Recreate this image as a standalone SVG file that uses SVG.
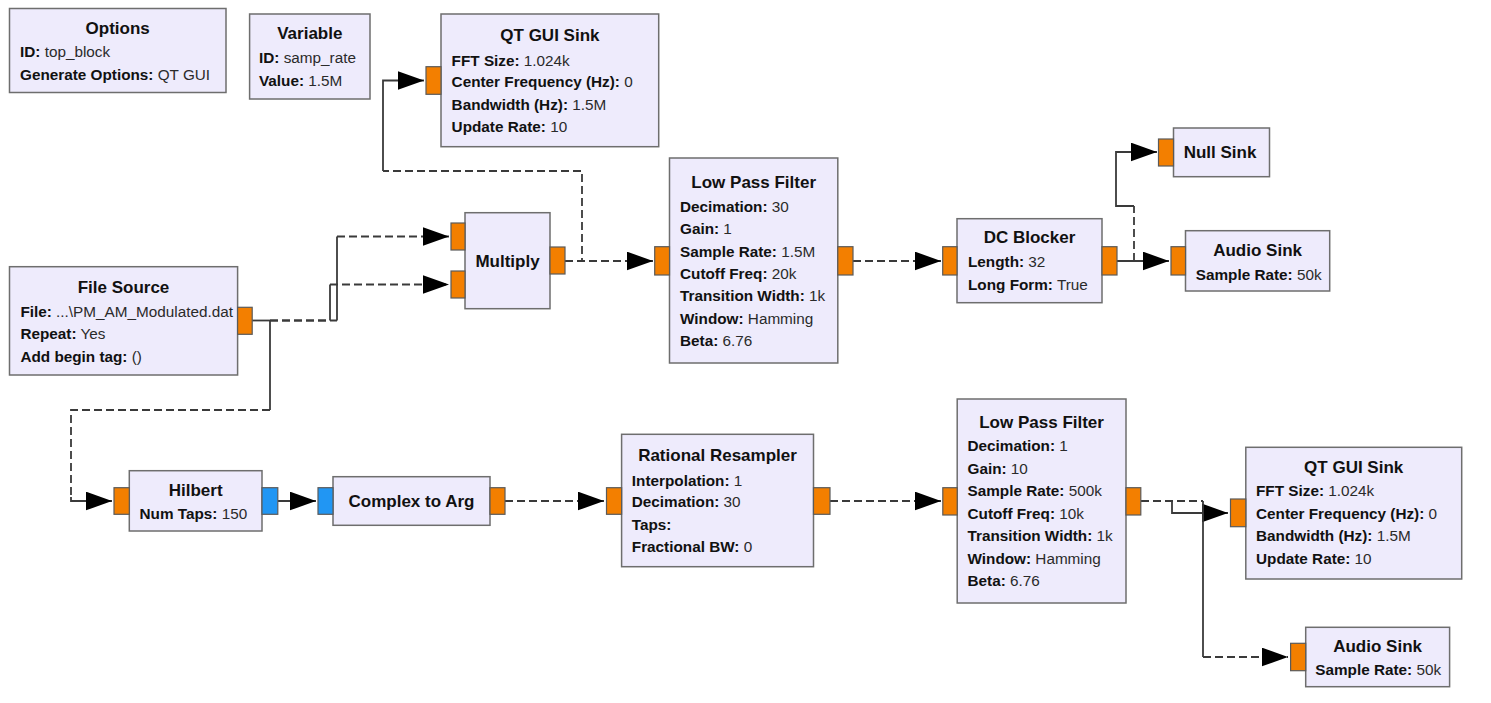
<svg xmlns="http://www.w3.org/2000/svg" width="1491" height="703" viewBox="0 0 1491 703">
<style>
.blk{fill:#EEEBFC;stroke:#6e6e6e;stroke-width:1.5}
.po{fill:#F37F00;stroke:#5a5a5a;stroke-width:1.2}
.pb{fill:#2196F3;stroke:#5a5a5a;stroke-width:1.2}
.t{font-family:"Liberation Sans",Arial,sans-serif;font-size:17px;font-weight:bold;fill:#111;text-anchor:middle}
.p{font-family:"Liberation Sans",Arial,sans-serif;font-size:15.3px;fill:#2a2a2a}
.p tspan.k{font-weight:bold;fill:#111}
.s{fill:none;stroke:#3a3a3a;stroke-width:1.8}
.d{fill:none;stroke:#3a3a3a;stroke-width:1.8;stroke-dasharray:8 4}
.ah{fill:#000}
</style>
<defs>
<marker id="arr" markerUnits="userSpaceOnUse" markerWidth="26" markerHeight="19" viewBox="0 0 25 18" refX="25" refY="9" orient="auto">
<path class="ah" d="M0,0 L25,9 L0,18 Z"/>
</marker>
</defs>
<rect width="1491" height="703" fill="#fff"/>

<g id="connectors">
<g id="e-mult-qt1">
<path class="d" d="M565,261 H582 V171 H383"/>
<path class="s" d="M383,171 V80.5 H424" marker-end="url(#arr)"/>
</g>
<g id="e-mult-lpf1"><path class="d" d="M565,261 H653" marker-end="url(#arr)"/></g>
<g id="e-fs-mult0">
<path class="s" d="M252,320.5 H270"/>
<path class="d" d="M270,320.5 H337"/>
<path class="s" d="M337,320.5 V236.5"/>
<path class="d" d="M337,236.5 H449" marker-end="url(#arr)"/>
</g>
<g id="e-fs-mult1">
<path class="d" d="M270,320.5 H330"/>
<path class="s" d="M330,320.5 V284.5"/>
<path class="d" d="M330,284.5 H449" marker-end="url(#arr)"/>
</g>
<g id="e-fs-hilbert">
<path class="s" d="M270,320.5 V410"/>
<path class="d" d="M270,410 H71 V497"/>
<path class="s" d="M71,497 V501 H112" marker-end="url(#arr)"/>
</g>
<g id="e-hil-c2a"><path class="s" d="M278,501 H316" marker-end="url(#arr)"/></g>
<g id="e-c2a-rr"><path class="d" d="M505,501 H604" marker-end="url(#arr)"/></g>
<g id="e-rr-lpf2"><path class="d" d="M830,501 H941" marker-end="url(#arr)"/></g>
<g id="e-lpf2-qt2">
<path class="d" d="M1141,501 H1203"/>
<path class="s" d="M1172,501 V513 H1228" marker-end="url(#arr)"/>
</g>
<g id="e-lpf2-audio2">
<path class="s" d="M1203,501 V657"/>
<path class="d" d="M1203,657 H1288" marker-end="url(#arr)"/>
</g>
<g id="e-lpf1-dc"><path class="d" d="M853,261 H941" marker-end="url(#arr)"/></g>
<g id="e-dc-null">
<path class="s" d="M1117,261 H1134"/>
<path class="d" d="M1134,261 V206"/>
<path class="s" d="M1134,206 H1116 V152 H1157" marker-end="url(#arr)"/>
</g>
<g id="e-dc-audio1"><path class="s" d="M1117,261 H1169" marker-end="url(#arr)"/></g>
</g>

<g id="options">
<rect class="blk" x="9.5" y="8.5" width="216.5" height="84"/>
<text class="t" x="117.7" y="34.3">Options</text>
<text class="p" x="20" y="57.2"><tspan class="k">ID:</tspan> top_block</text>
<text class="p" x="20" y="79.5"><tspan class="k">Generate Options:</tspan> QT GUI</text>
</g>

<g id="variable">
<rect class="blk" x="249.6" y="14" width="120.4" height="85"/>
<text class="t" x="309.8" y="39.3">Variable</text>
<text class="p" x="259" y="63.2"><tspan class="k">ID:</tspan> samp_rate</text>
<text class="p" x="259" y="85.5"><tspan class="k">Value:</tspan> 1.5M</text>
</g>

<g id="qt_gui_sink_1">
<rect class="blk" x="441" y="14" width="217.7" height="132.7"/>
<rect class="po" x="426" y="66.7" width="15" height="27.6"/>
<text class="t" x="549.9" y="41">QT GUI Sink</text>
<text class="p" x="451.6" y="65.5"><tspan class="k">FFT Size:</tspan> 1.024k</text>
<text class="p" x="451.6" y="87.2"><tspan class="k">Center Frequency (Hz):</tspan> 0</text>
<text class="p" x="451.6" y="109.5"><tspan class="k">Bandwidth (Hz):</tspan> 1.5M</text>
<text class="p" x="451.6" y="132.2"><tspan class="k">Update Rate:</tspan> 10</text>
</g>

<g id="file_source">
<rect class="blk" x="9.5" y="266.7" width="228.1" height="108.3"/>
<rect class="po" x="237.6" y="307.3" width="14.6" height="27"/>
<text class="t" x="123.5" y="293.3">File Source</text>
<text class="p" x="20.4" y="316.5"><tspan class="k">File:</tspan> ...\PM_AM_Modulated.dat</text>
<text class="p" x="20.4" y="339"><tspan class="k">Repeat:</tspan> Yes</text>
<text class="p" x="20.4" y="361.5"><tspan class="k">Add begin tag:</tspan> ()</text>
</g>

<g id="multiply">
<rect class="blk" x="465" y="212.7" width="85" height="96"/>
<rect class="po" x="451" y="223" width="14" height="27"/>
<rect class="po" x="451" y="271" width="14" height="27"/>
<rect class="po" x="550" y="247" width="15" height="27"/>
<text class="t" x="507.5" y="267">Multiply</text>
</g>

<g id="low_pass_filter_1">
<rect class="blk" x="669.5" y="158" width="168.3" height="205"/>
<rect class="po" x="654.7" y="246.7" width="14.8" height="28.3"/>
<rect class="po" x="837.8" y="246.7" width="15.2" height="28.3"/>
<text class="t" x="753.7" y="187.7">Low Pass Filter</text>
<text class="p" x="680" y="211.5"><tspan class="k">Decimation:</tspan> 30</text>
<text class="p" x="680" y="233.8"><tspan class="k">Gain:</tspan> 1</text>
<text class="p" x="680" y="256.5"><tspan class="k">Sample Rate:</tspan> 1.5M</text>
<text class="p" x="680" y="278.5"><tspan class="k">Cutoff Freq:</tspan> 20k</text>
<text class="p" x="680" y="301.2"><tspan class="k">Transition Width:</tspan> 1k</text>
<text class="p" x="680" y="323.5"><tspan class="k">Window:</tspan> Hamming</text>
<text class="p" x="680" y="346.2"><tspan class="k">Beta:</tspan> 6.76</text>
</g>

<g id="dc_blocker">
<rect class="blk" x="957" y="218.7" width="145" height="84"/>
<rect class="po" x="942.7" y="246.7" width="14.3" height="28.3"/>
<rect class="po" x="1102" y="246.7" width="15" height="28.3"/>
<text class="t" x="1029.5" y="243.3">DC Blocker</text>
<text class="p" x="968" y="267.2"><tspan class="k">Length:</tspan> 32</text>
<text class="p" x="968" y="289.5"><tspan class="k">Long Form:</tspan> True</text>
</g>

<g id="null_sink">
<rect class="blk" x="1173.5" y="128" width="96" height="48.7"/>
<rect class="po" x="1158.5" y="139" width="15" height="27"/>
<text class="t" x="1220" y="158.3">Null Sink</text>
</g>

<g id="audio_sink_1">
<rect class="blk" x="1185.5" y="230.7" width="144.2" height="60.3"/>
<rect class="po" x="1171" y="246.7" width="14.5" height="28.3"/>
<text class="t" x="1257.6" y="256">Audio Sink</text>
<text class="p" x="1195.8" y="279.5"><tspan class="k">Sample Rate:</tspan> 50k</text>
</g>

<g id="hilbert">
<rect class="blk" x="129.3" y="470.7" width="132.7" height="60.3"/>
<rect class="po" x="114" y="487.7" width="15.3" height="26.6"/>
<rect class="pb" x="262" y="487.7" width="15.8" height="26.6"/>
<text class="t" x="195.7" y="496">Hilbert</text>
<text class="p" x="139.5" y="518.8"><tspan class="k">Num Taps:</tspan> 150</text>
</g>

<g id="complex_to_arg">
<rect class="blk" x="333" y="476.7" width="157" height="48.6"/>
<rect class="pb" x="318" y="487.7" width="15" height="26.6"/>
<rect class="po" x="490" y="487.7" width="15" height="26.6"/>
<text class="t" x="411.5" y="507">Complex to Arg</text>
</g>

<g id="rational_resampler">
<rect class="blk" x="621.6" y="434.3" width="191.9" height="132.4"/>
<rect class="po" x="606.5" y="487.7" width="15.1" height="26.6"/>
<rect class="po" x="813.5" y="487.7" width="16.5" height="26.6"/>
<text class="t" x="717.5" y="461">Rational Resampler</text>
<text class="p" x="631.8" y="485.5"><tspan class="k">Interpolation:</tspan> 1</text>
<text class="p" x="631.8" y="506.5"><tspan class="k">Decimation:</tspan> 30</text>
<text class="p" x="631.8" y="529.8"><tspan class="k">Taps:</tspan></text>
<text class="p" x="631.8" y="552.2"><tspan class="k">Fractional BW:</tspan> 0</text>
</g>

<g id="low_pass_filter_2">
<rect class="blk" x="957.2" y="399" width="168.8" height="204"/>
<rect class="po" x="942.8" y="487.7" width="14.4" height="27.3"/>
<rect class="po" x="1126" y="487.7" width="14.8" height="27.3"/>
<text class="t" x="1041.6" y="428.3">Low Pass Filter</text>
<text class="p" x="967.5" y="451.2"><tspan class="k">Decimation:</tspan> 1</text>
<text class="p" x="967.5" y="473.8"><tspan class="k">Gain:</tspan> 10</text>
<text class="p" x="967.5" y="496.2"><tspan class="k">Sample Rate:</tspan> 500k</text>
<text class="p" x="967.5" y="518.8"><tspan class="k">Cutoff Freq:</tspan> 10k</text>
<text class="p" x="967.5" y="541.2"><tspan class="k">Transition Width:</tspan> 1k</text>
<text class="p" x="967.5" y="563.8"><tspan class="k">Window:</tspan> Hamming</text>
<text class="p" x="967.5" y="586.2"><tspan class="k">Beta:</tspan> 6.76</text>
</g>

<g id="qt_gui_sink_2">
<rect class="blk" x="1245.8" y="447.3" width="215.9" height="131.7"/>
<rect class="po" x="1230.5" y="499" width="15.3" height="27.7"/>
<text class="t" x="1353.7" y="473.3">QT GUI Sink</text>
<text class="p" x="1256" y="496.2"><tspan class="k">FFT Size:</tspan> 1.024k</text>
<text class="p" x="1256" y="518.8"><tspan class="k">Center Frequency (Hz):</tspan> 0</text>
<text class="p" x="1256" y="541.2"><tspan class="k">Bandwidth (Hz):</tspan> 1.5M</text>
<text class="p" x="1256" y="563.8"><tspan class="k">Update Rate:</tspan> 10</text>
</g>

<g id="audio_sink_2">
<rect class="blk" x="1305.7" y="627.3" width="143.9" height="59.4"/>
<rect class="po" x="1290.6" y="643.3" width="15.1" height="27.4"/>
<text class="t" x="1377.6" y="652">Audio Sink</text>
<text class="p" x="1315.3" y="674.8"><tspan class="k">Sample Rate:</tspan> 50k</text>
</g>
</svg>
